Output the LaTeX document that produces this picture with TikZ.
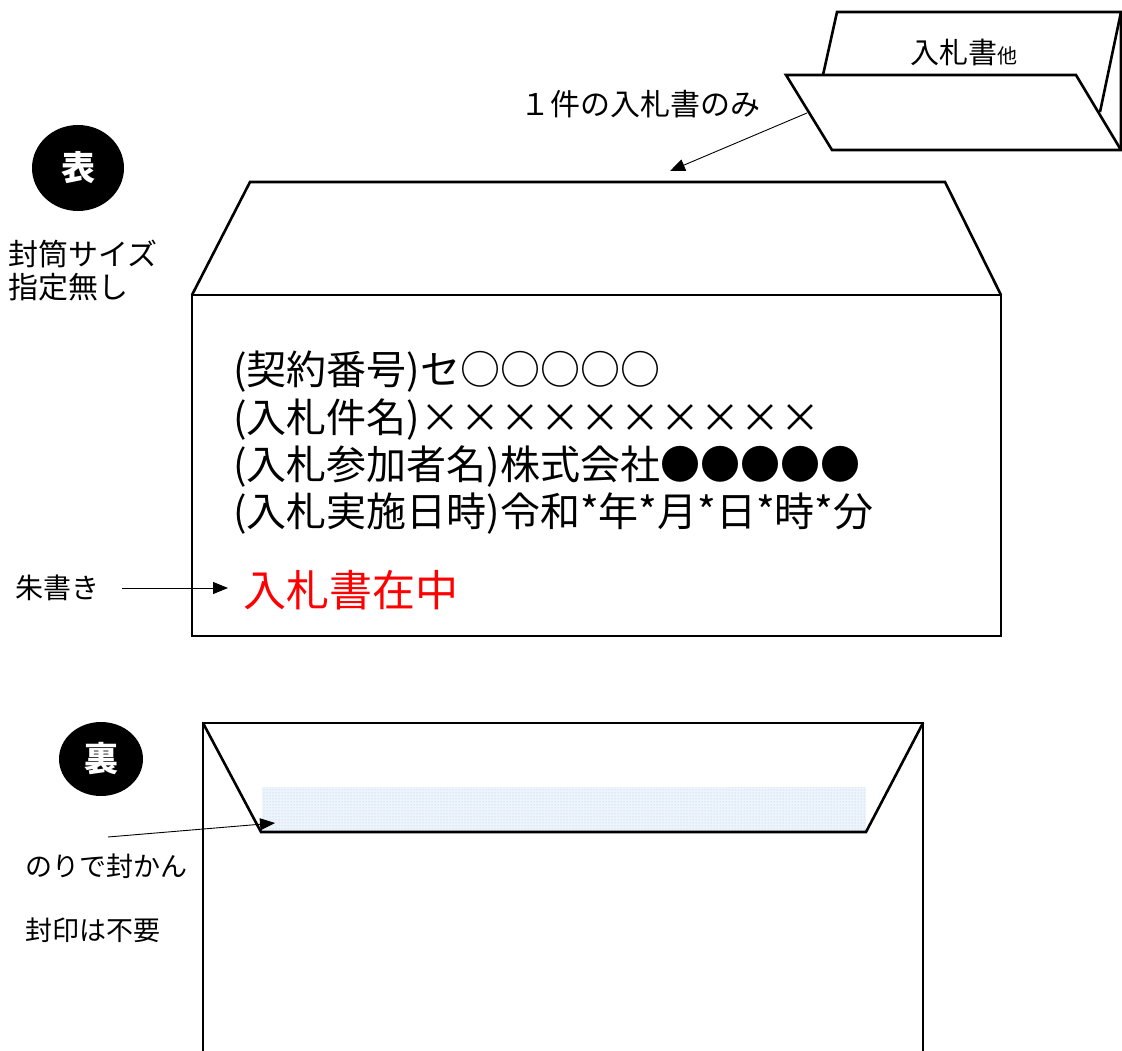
\documentclass[tikz,border=0pt]{standalone}
\usepackage{fontspec}
\setmainfont{Noto Sans CJK JP}
\usetikzlibrary{arrows.meta,shapes.geometric,patterns}
\definecolor{glue}{RGB}{238,244,252}
\definecolor{gluedot}{RGB}{170,198,232}
\definecolor{stamp}{RGB}{255,0,0}
\tikzset{
  edge/.style={line width=2.6pt, line join=miter},
  lead/.style={line width=0.9pt, -{Triangle[length=15pt,width=12pt]}},
  badge/.style={ellipse, fill=black, text=white, inner sep=0pt, font=\fontsize{34}{34}\selectfont\bfseries},
  body/.style={inner sep=0pt, anchor=west, font=\fontsize{40}{40}\selectfont},
  side/.style={inner sep=0pt, anchor=west, font=\fontsize{28}{28}\selectfont}
}
\begin{document}
\begin{tikzpicture}[x=1pt,y=-1pt]
\useasboundingbox (0,0) rectangle (1122,1051);

% folded document (top right)
\draw[edge] (823,75) -- (837,12) -- (1121,12) -- (1121,150);
\draw[edge] (1121,12) -- (1100,112);
\draw[edge,fill=white] (786,75) -- (1076,75) -- (1121,150) -- (832,150) -- cycle;
\node[inner sep=0pt] (doc) at (964,52) {\fontsize{29}{29}\selectfont 入札書\fontsize{20}{20}\selectfont 他};
\coordinate (docpt) at (807,113);

\node[inner sep=0pt, font=\fontsize{30}{30}\selectfont] (only) at (640,104) {１件の入札書のみ};

% front envelope
\draw[edge] (192,295) -- (250,182) -- (945,182) -- (1001,295);
\draw[edge] (192,295) rectangle (1001,636);
\coordinate (flaptop) at (670,171);
\draw[lead] (docpt) -- (flaptop);

\node[badge, minimum width=92pt, minimum height=86pt] (omote) at (78,168) {表};
\node[side, font=\fontsize{30}{30}\selectfont] (size1) at (8,254) {封筒サイズ};
\node[side, font=\fontsize{30}{30}\selectfont] (size2) at (8,287) {指定無し};

\node[body] (l1) at (233,372) {(契約番号)セ○○○○○};
\node[body] (l2) at (233,420) {(入札件名)××××××××××};
\node[body] (l3) at (233,467) {(入札参加者名)株式会社●●●●●};
\node[body] (l4) at (233,514) {(入札実施日時)令和*年*月*日*時*分};

\node[side] (shu) at (15,588) {朱書き};
\node[inner sep=0pt, anchor=west, text=stamp, font=\fontsize{43}{43}\selectfont] (zaichu) at (243,590) {入札書在中};
\coordinate (shustart) at (122,588);
\coordinate (shuend) at (228,588);
\draw[lead] (shustart) -- (shuend);

% back envelope
\fill[glue] (262,787) rectangle (866,831);
\fill[pattern=dots, pattern color=gluedot] (262,787) rectangle (866,831);
\draw[edge] (203,1056) -- (203,723) -- (923,723) -- (923,1056);
\draw[edge] (203,723) -- (261,832) -- (866,832) -- (923,723);
\coordinate (gluept) at (275,823);

\node[badge, minimum width=84pt, minimum height=74pt] (ura) at (101,759) {裏};
\coordinate (noristart) at (108,837);
\draw[lead] (noristart) -- (gluept);
\node[side, font=\fontsize{27}{27}\selectfont] (nori) at (25,866) {のりで封かん};
\node[side, font=\fontsize{27}{27}\selectfont] (fuin) at (25,930) {封印は不要};
\end{tikzpicture}
\end{document}
